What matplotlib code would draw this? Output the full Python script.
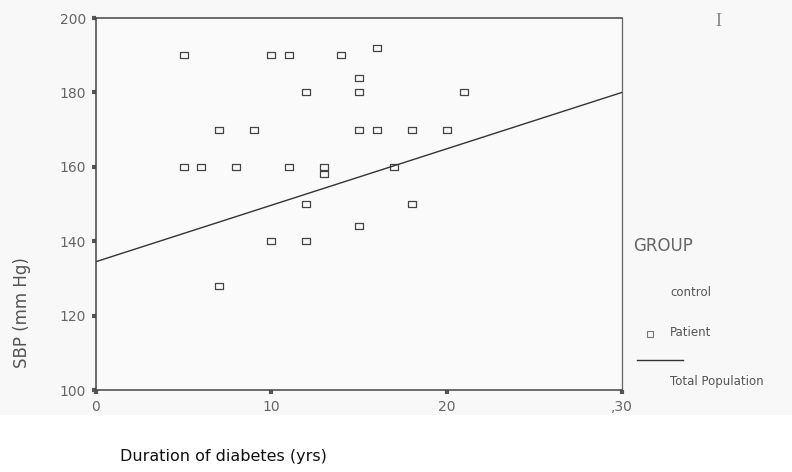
import matplotlib.pyplot as plt
from matplotlib.lines import Line2D
from matplotlib.patches import Rectangle

# patient group: duration of diabetes (yrs) vs systolic blood pressure
duration = [5, 10, 11, 14, 16, 15, 12, 15, 21, 7, 9, 15, 16, 18, 20,
            5, 6, 8, 11, 13, 13, 17, 12, 18, 15, 10, 12, 7]
sbp = [190, 190, 190, 190, 192, 184, 180, 180, 180, 170, 170, 170, 170, 170, 170,
       160, 160, 160, 160, 160, 158, 160, 150, 150, 144, 140, 140, 128]

# total population fit line (end points)
fit_x = [0, 30]
fit_y = [134.5, 180]

x_ticks = [0, 10, 20, 30]
x_ticklabels = ["0", "10", "20", ",30"]
y_ticks = [100, 120, 140, 160, 180, 200]

W, H = 792, 472
fig = plt.figure(figsize=(W / 100, H / 100), dpi=100)
fig.patch.set_facecolor("white")
# scanned page tone behind the plot
fig.add_artist(Rectangle((0, 1 - 415 / H), 1, 415 / H, transform=fig.transFigure,
                         facecolor="#f8f8f8", edgecolor="none", zorder=0))

ax = fig.add_axes([96 / W, 1 - 390 / H, (622 - 96) / W, (390 - 18) / H])
ax.set_facecolor("#fafafa")

box = [(-1.35, -1), (1.35, -1), (1.35, 1), (-1.35, 1), (-1.35, -1)]
ax.plot(duration, sbp, linestyle="none", marker=box, markersize=6,
        markerfacecolor="none", markeredgecolor="#444444", markeredgewidth=0.9)
ax.plot(fit_x, fit_y, color="#333333", linewidth=1.0)

ax.set_xlim(0, 30)
ax.set_ylim(100, 200)
ax.set_xticks(x_ticks)
ax.set_xticklabels(x_ticklabels)
ax.set_yticks(y_ticks)
for s in ax.spines.values():
    s.set_color("#444444")
    s.set_linewidth(1.1)
ax.spines["right"].set_color("#666666")
ax.spines["right"].set_linewidth(0.9)
ax.tick_params(direction="out", length=3, width=3, color="#555555",
               labelcolor="#666666", labelsize=10, pad=4)

fig.text(22 / W, 1 - 313 / H, "SBP (mm Hg)", rotation=90, ha="center", va="center",
         fontsize=12, color="#555555")
fig.text(120 / W, 1 - 457 / H, "Duration of diabetes (yrs)", ha="left", va="center",
         fontsize=11.5, color="#111111")

# legend, drawn by hand to keep the original's loose layout
fig.text(633 / W, 1 - 246 / H, "GROUP", ha="left", va="center", fontsize=12, color="#666666")
fig.text(670 / W, 1 - 293 / H, "control", ha="left", va="center", fontsize=8.5, color="#555555")
fig.add_artist(Line2D([650 / W], [1 - 334 / H], transform=fig.transFigure, marker="s",
                      markersize=4, markerfacecolor="none", markeredgecolor="#777777",
                      markeredgewidth=0.8, linestyle="none"))
fig.text(670 / W, 1 - 333 / H, "Patient", ha="left", va="center", fontsize=8.5, color="#555555")
fig.add_artist(Line2D([637 / W, 683 / W], [1 - 360 / H, 1 - 360 / H], transform=fig.transFigure,
                      color="#333333", linewidth=1.0))
fig.text(670 / W, 1 - 382 / H, "Total Population", ha="left", va="center", fontsize=8.5,
         color="#555555")
fig.text(718 / W, 1 - 22 / H, "I", ha="center", va="center", fontsize=13, color="#888888",
         family="Liberation Serif")

fig.savefig("out.png", dpi=100, facecolor=fig.get_facecolor())
